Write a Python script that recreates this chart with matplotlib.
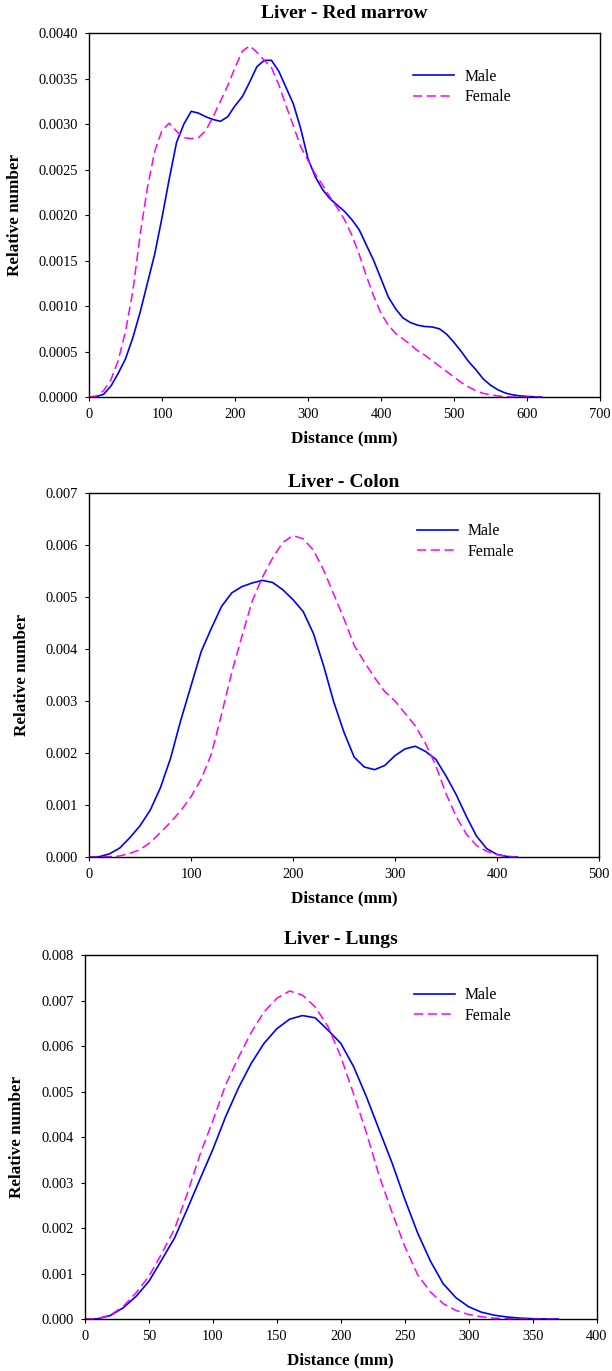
import numpy as np
import matplotlib.pyplot as plt
from matplotlib.ticker import FormatStrFormatter, MultipleLocator

plt.rcParams['font.family'] = ['Liberation Serif', 'DejaVu Serif']

# ---------- Liver - Red marrow (valores x 1e-3) ----------
rm_x = np.arange(0, 630, 10)
rm_male = [0, 0.005, 0.03, 0.12, 0.26, 0.42, 0.65, 0.93, 1.25, 1.57,
           1.97, 2.40, 2.80, 3.00, 3.14, 3.12, 3.08, 3.05, 3.03, 3.08,
           3.20, 3.30, 3.46, 3.63, 3.70, 3.70, 3.58, 3.40, 3.22, 2.95,
           2.62, 2.42, 2.28, 2.18, 2.11, 2.04, 1.95, 1.84, 1.67, 1.50,
           1.30, 1.10, 0.97, 0.87, 0.82, 0.79, 0.775, 0.77, 0.75, 0.69,
           0.60, 0.50, 0.39, 0.30, 0.20, 0.13, 0.08, 0.045, 0.025, 0.013,
           0.007, 0.002, 0]
rm_female = [0, 0.01, 0.07, 0.19, 0.40, 0.72, 1.16, 1.78, 2.30, 2.70,
             2.93, 3.01, 2.92, 2.85, 2.84, 2.85, 2.93, 3.08, 3.25, 3.42,
             3.62, 3.80, 3.86, 3.79, 3.70, 3.62, 3.43, 3.20, 2.98, 2.75,
             2.60, 2.45, 2.33, 2.20, 2.08, 1.95, 1.78, 1.57, 1.33, 1.11,
             0.92, 0.79, 0.70, 0.64, 0.58, 0.51, 0.46, 0.40, 0.34, 0.28,
             0.22, 0.16, 0.11, 0.07, 0.04, 0.025, 0.012, 0.005, 0, 0,
             0, 0, 0]

# ---------- Liver - Colon ----------
co_x = np.arange(0, 430, 10)
co_male = [0, 0.006, 0.06, 0.17, 0.37, 0.60, 0.90, 1.33, 1.90, 2.63,
           3.29, 3.95, 4.40, 4.82, 5.08, 5.20, 5.27, 5.32, 5.28, 5.14,
           4.95, 4.72, 4.30, 3.68, 2.98, 2.40, 1.92, 1.73, 1.68, 1.76,
           1.95, 2.08, 2.13, 2.03, 1.88, 1.56, 1.20, 0.78, 0.40, 0.16,
           0.05, 0.01, 0]
co_female = [0, 0.0, 0.005, 0.02, 0.07, 0.14, 0.28, 0.47, 0.67, 0.89,
             1.16, 1.50, 1.98, 2.75, 3.55, 4.25, 4.92, 5.38, 5.75, 6.05,
             6.18, 6.12, 5.90, 5.52, 5.05, 4.58, 4.07, 3.75, 3.45, 3.18,
             3.00, 2.76, 2.52, 2.18, 1.76, 1.22, 0.78, 0.44, 0.22, 0.11,
             0.045, 0.01, 0]

# ---------- Liver - Lungs ----------
lu_x = np.arange(0, 380, 10)
lu_male = [0, 0.005, 0.08, 0.25, 0.50, 0.83, 1.30, 1.78, 2.42, 3.08,
           3.73, 4.45, 5.08, 5.62, 6.06, 6.38, 6.59, 6.67, 6.62, 6.35,
           6.06, 5.55, 4.89, 4.16, 3.44, 2.64, 1.90, 1.28, 0.78, 0.47,
           0.27, 0.15, 0.085, 0.045, 0.02, 0.008, 0.003, 0]
lu_female = [0, 0.01, 0.09, 0.28, 0.58, 0.94, 1.44, 1.98, 2.76, 3.62,
             4.36, 5.15, 5.75, 6.30, 6.75, 7.05, 7.21, 7.12, 6.86, 6.43,
             5.77, 4.95, 4.10, 3.15, 2.35, 1.60, 0.98, 0.60, 0.34, 0.19,
             0.10, 0.05, 0.02, 0.008, 0, 0, 0, 0]

panels = [
    dict(title="Liver - Red marrow", x=rm_x, m=rm_male, f=rm_female,
         xmax=700, xstep=100, ymax=0.004, ystep=0.0005, fmt='%.4f',
         rect=[0.1454, 0.7104, 0.835, 0.2655], ty=1.055, leg=(0.634, 0.902),
         ylx=-0.145),
    dict(title="Liver - Colon", x=co_x, m=co_male, f=co_female,
         xmax=500, xstep=100, ymax=0.007, ystep=0.001, fmt='%.3f',
         rect=[0.1454, 0.3749, 0.8333, 0.2655], ty=1.028, leg=(0.643, 0.917),
         ylx=-0.132),
    dict(title="Liver - Lungs", x=lu_x, m=lu_male, f=lu_female,
         xmax=400, xstep=50, ymax=0.008, ystep=0.001, fmt='%.3f',
         rect=[0.1389, 0.0379, 0.8358, 0.2655], ty=1.044, leg=(0.643, 0.912),
         ylx=-0.132),
]

fig = plt.figure(figsize=(6.12, 13.71), dpi=100)
for p in panels:
    ax = fig.add_axes(p['rect'])
    ax.plot(p['x'], np.array(p['m']) * 1e-3, color='#0000ff', lw=1.2,
            label='Male')
    ax.plot(p['x'], np.array(p['f']) * 1e-3, color='#ff00ff', lw=1.1,
            dashes=(6, 3), label='Female')
    ax.set_xlim(0, p['xmax'])
    ax.set_ylim(0, p['ymax'])
    ax.xaxis.set_major_locator(MultipleLocator(p['xstep']))
    ax.yaxis.set_major_locator(MultipleLocator(p['ystep']))
    ax.yaxis.set_major_formatter(FormatStrFormatter(p['fmt']))
    ax.tick_params(direction='out', length=3, width=0.8, pad=5,
                   labelsize=10.4, top=False, right=False)
    for s in ax.spines.values():
        s.set_linewidth(1.0)
    ax.set_title(p['title'], fontsize=14, fontweight='bold', y=p['ty'],
                 va='center', pad=0)
    ax.set_xlabel("Distance (mm)", fontsize=12.3, fontweight='bold',
                  labelpad=7)
    ax.set_ylabel("Relative number", fontsize=12.3, fontweight='bold',
                  va='center')
    ax.yaxis.set_label_coords(p['ylx'], 0.5)
    ax.legend(loc='upper left', bbox_to_anchor=p['leg'], frameon=False,
              fontsize=11.4, borderpad=0, borderaxespad=0,
              handlelength=2.6, handletextpad=0.63, labelspacing=0.3)

fig.savefig("out.png", dpi=100)
